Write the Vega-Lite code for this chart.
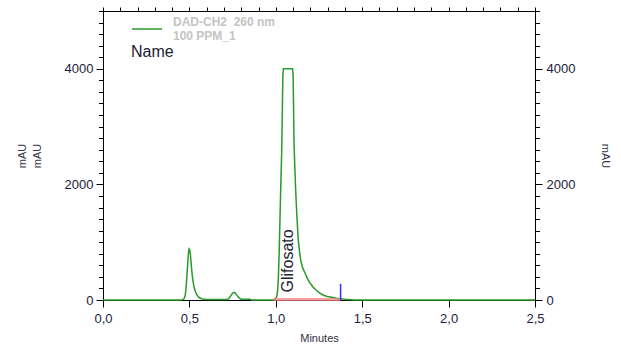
{
  "$schema": "https://vega.github.io/schema/vega-lite/v6.json",
  "width": 432,
  "height": 289,
  "autosize": "none",
  "padding": {"left": 103, "top": 11, "right": 86, "bottom": 46},
  "background": "white",
  "config": {
    "font": "Liberation Sans",
    "view": {"stroke": "#000000", "strokeWidth": 1},
    "axis": {
      "grid": false,
      "domainColor": "#000000",
      "tickColor": "#000000",
      "labelColor": "#1c1c3c",
      "labelFontSize": 13,
      "labelFont": "Liberation Sans",
      "labelFlush": false,
      "labelOverlap": false,
      "titleFont": "Liberation Sans",
      "titleFontWeight": "normal",
      "titleFontSize": 11,
      "titleColor": "#333344"
    }
  },
  "datasets": {
    "trace": [
      {"t": 0, "v": 0}, {"t": 0.44, "v": 0}, {"t": 0.46, "v": 6}, {"t": 0.47, "v": 25},
      {"t": 0.475, "v": 70}, {"t": 0.48, "v": 180}, {"t": 0.485, "v": 380}, {"t": 0.49, "v": 620},
      {"t": 0.494, "v": 800}, {"t": 0.498, "v": 885}, {"t": 0.502, "v": 870}, {"t": 0.506, "v": 780},
      {"t": 0.511, "v": 600}, {"t": 0.516, "v": 440}, {"t": 0.521, "v": 320}, {"t": 0.527, "v": 225},
      {"t": 0.533, "v": 160}, {"t": 0.54, "v": 105}, {"t": 0.55, "v": 62}, {"t": 0.56, "v": 35},
      {"t": 0.575, "v": 18}, {"t": 0.6, "v": 10}, {"t": 0.72, "v": 10}, {"t": 0.73, "v": 30},
      {"t": 0.74, "v": 75}, {"t": 0.75, "v": 120}, {"t": 0.758, "v": 132}, {"t": 0.766, "v": 118},
      {"t": 0.775, "v": 80}, {"t": 0.787, "v": 38}, {"t": 0.8, "v": 15}, {"t": 0.85, "v": 12},
      {"t": 0.86, "v": 0}, {"t": 0.98, "v": 0}, {"t": 0.99, "v": 6}, {"t": 1.0, "v": 25},
      {"t": 1.006, "v": 70}, {"t": 1.011, "v": 170}, {"t": 1.015, "v": 400}, {"t": 1.02, "v": 860},
      {"t": 1.025, "v": 1500}, {"t": 1.03, "v": 2100}, {"t": 1.034, "v": 2550}, {"t": 1.038, "v": 3300},
      {"t": 1.041, "v": 3900}, {"t": 1.044, "v": 4000}, {"t": 1.097, "v": 4000}, {"t": 1.1, "v": 3900},
      {"t": 1.103, "v": 3300}, {"t": 1.105, "v": 2770}, {"t": 1.11, "v": 2300}, {"t": 1.115, "v": 1900},
      {"t": 1.122, "v": 1450}, {"t": 1.13, "v": 1040}, {"t": 1.137, "v": 850}, {"t": 1.144, "v": 690},
      {"t": 1.155, "v": 560}, {"t": 1.169, "v": 467}, {"t": 1.183, "v": 370}, {"t": 1.198, "v": 294},
      {"t": 1.215, "v": 225}, {"t": 1.233, "v": 173}, {"t": 1.253, "v": 125}, {"t": 1.273, "v": 87},
      {"t": 1.298, "v": 62}, {"t": 1.323, "v": 46}, {"t": 1.35, "v": 30}, {"t": 1.375, "v": 20},
      {"t": 1.4, "v": 12}, {"t": 1.44, "v": 5}, {"t": 1.45, "v": 0}, {"t": 2.5, "v": 0}
    ],
    "base": [{"t": 0.985, "v": 10}, {"t": 1.375, "v": 10}],
    "marker": [{"t": 1.375, "v": 0, "v2": 280}],
    "peak": [{"t": 1.068, "v": 130, "name": "Glifosato"}]
  },
  "layer": [
    {
      "data": {"name": "trace"},
      "mark": {"type": "line", "strokeWidth": 1.5, "interpolate": "linear"},
      "encoding": {
        "x": {
          "field": "t", "type": "quantitative",
          "scale": {"domain": [0, 2.5], "nice": false, "zero": false},
          "axis": {
            "title": "Minutes",
            "values": [0, 0.5, 1, 1.5, 2, 2.5],
            "tickCount": 100,
            "format": ".1f",
            "labelExpr": "replace(datum.label, '.', ',')",
            "tickSize": 7,
            "labelPadding": 5,
            "titlePadding": 7
          }
        },
        "y": {
          "field": "v", "type": "quantitative",
          "scale": {"domain": [0, 5000], "nice": false},
          "axis": {
            "orient": "left",
            "title": ["mAU", "mAU"],
            "titleLineHeight": 15,
            "values": [0, 2000, 4000],
            "tickCount": 100,
            "format": "d",
            "tickSize": 7,
            "labelPadding": 3,
            "titlePadding": 22
          }
        },
        "color": {
          "datum": "DAD-CH2\u00a0 260 nm|100 PPM_1",
          "scale": {"range": ["#2a9a2a"]},
          "legend": {
            "orient": "none",
            "legendX": 28,
            "legendY": 2,
            "padding": 0,
            "title": "Name",
            "titleOrient": "bottom",
            "titleAnchor": "start",
            "titleFontSize": 16,
            "titleFontWeight": "normal",
            "titleColor": "#1a1a33",
            "titlePadding": 2,
            "titleFont": "Liberation Sans",
            "symbolType": "stroke",
            "symbolSize": 900,
            "symbolStrokeWidth": 1.5,
            "labelExpr": "split(datum.label, '|')",
            "labelFontSize": 12,
            "labelFontWeight": "bold",
            "labelFont": "Liberation Sans",
            "labelColor": "#c4c4c4",
            "labelLineHeight": 13,
            "labelBaseline": "bottom",
            "labelOffset": 10,
            "labelLimit": 300
          }
        }
      }
    },
    {
      "data": {"name": "base"},
      "mark": {"type": "line", "color": "#f08080", "strokeWidth": 3, "opacity": 0.75},
      "encoding": {
        "x": {
          "field": "t", "type": "quantitative",
          "axis": {
            "title": null,
            "values": [0, 0.1, 0.2, 0.3, 0.4, 0.5, 0.6, 0.7, 0.8, 0.9, 1.0, 1.1, 1.2, 1.3, 1.4, 1.5, 1.6, 1.7, 1.8, 1.9, 2.0, 2.1, 2.2, 2.3, 2.4, 2.5],
            "tickCount": 100,
            "labels": false,
            "domain": false,
            "tickSize": 4
          }
        },
        "y": {
          "field": "v", "type": "quantitative",
          "scale": {"domain": [0, 5000], "nice": false},
          "axis": {
            "orient": "right",
            "title": "mAU",
            "values": [0, 2000, 4000],
            "tickCount": 100,
            "format": "d",
            "tickSize": 7,
            "labelPadding": 4,
            "titlePadding": 25
          }
        }
      }
    },
    {
      "data": {"name": "marker"},
      "mark": {"type": "rule", "color": "#3030ff", "strokeWidth": 1.5},
      "encoding": {
        "x": {"field": "t", "type": "quantitative", "axis": null},
        "y": {
          "field": "v", "type": "quantitative",
          "scale": {"domain": [0, 5000], "nice": false},
          "axis": {
            "orient": "left",
            "title": null,
            "values": [0, 200, 400, 600, 800, 1000, 1200, 1400, 1600, 1800, 2000, 2200, 2400, 2600, 2800, 3000, 3200, 3400, 3600, 3800, 4000, 4200, 4400, 4600, 4800, 5000],
            "tickCount": 100,
            "labels": false,
            "domain": false,
            "tickSize": 4.5
          }
        },
        "y2": {"field": "v2"}
      }
    },
    {
      "data": {"name": "peak"},
      "mark": {"type": "text", "angle": 270, "align": "left", "baseline": "middle", "fontSize": 16, "font": "Liberation Sans", "color": "#222233"},
      "encoding": {
        "x": {"field": "t", "type": "quantitative", "axis": null},
        "y": {
          "field": "v", "type": "quantitative",
          "scale": {"domain": [0, 5000], "nice": false},
          "axis": {
            "orient": "right",
            "title": null,
            "values": [0, 200, 400, 600, 800, 1000, 1200, 1400, 1600, 1800, 2000, 2200, 2400, 2600, 2800, 3000, 3200, 3400, 3600, 3800, 4000, 4200, 4400, 4600, 4800, 5000],
            "tickCount": 100,
            "labels": false,
            "domain": false,
            "tickSize": 4.5
          }
        },
        "text": {"field": "name"}
      }
    }
  ],
  "resolve": {"scale": {"y": "independent"}, "axis": {"x": "independent"}}
}
